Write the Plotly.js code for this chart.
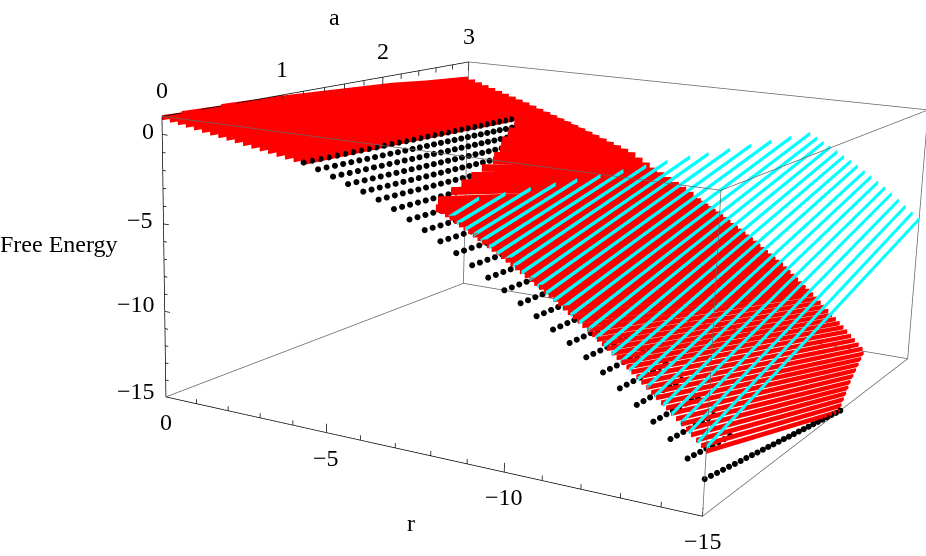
<!DOCTYPE html>
<html lang="en">
<head>
<meta charset="UTF-8">
<script src="https://cdn.plot.ly/plotly-3.0.1.min.js"></script>
<style>
    html, body { margin: 0; padding: 0; width: 926px; height: 556px; overflow: hidden; background: #fff; }
    #plot { position: absolute; left: 0; top: -497px; }
</style>
</head>
<body>
<div id="plot"></div>
<script>
// tick values
const rTicks = [0,-1,-2,-3,-4,-5,-6,-7,-8,-9,-10,-11,-12,-13,-14,-15];
const rLabels = [0,-5,-10,-15];
const aTicks = [0,0.2,0.4,0.6,0.8,1,1.2,1.4,1.6,1.8,2,2.2,2.4,2.6,2.8,3];
const aLabels = [0,1,2,3];
const zTicks = [0,-1,-2,-3,-4,-5,-6,-7,-8,-9,-10,-11,-12,-13,-14,-15];
const zLabels = [0,-5,-10,-15];

// red sheet, small |r|: F at the a values of redTopA
const redTopR = [0,-0.25,-0.5,-0.75,-1,-1.25,-1.5,-1.75,-2,-2.25,-2.5,-2.75,-3,-3.25,-3.5,-3.75,-4,-4.25];
const redTopA = [0,1,2.1,2.5,3];
const redTopF = [
    [1,0.75,0.3,0.02,-0.25],[0.92,0.68,0.24,-0.06,-0.4],[0.84,0.6,0.17,-0.15,-0.55],[0.76,0.53,0.11,-0.24,-0.7],
    [0.67,0.45,0.05,-0.32,-0.85],[0.59,0.37,-0.02,-0.42,-1],[0.51,0.3,-0.08,-0.52,-1.15],[0.43,0.22,-0.14,-0.62,-1.3],
    [0.35,0.15,-0.2,-0.72,-1.45],[0.27,0.07,-0.26,-0.83,-1.6],[0.18,-0.01,-0.33,-0.93,-1.77],[0.1,-0.08,-0.39,-1.04,-1.94],
    [0.02,-0.16,-0.45,-1.15,-2.1],[-0.06,-0.23,-0.52,-1.26,-2.27],[-0.15,-0.31,-0.59,-1.37,-2.44],[-0.23,-0.38,-0.66,-1.48,-2.6],
    [-0.31,-0.46,-0.73,-1.6,-2.78],[-0.4,-0.55,-0.8,-1.72,-2.95]
];

// red sheet past the fold: rows run from redMidA to a=3
const redMidR = [-4.5,-4.75,-5,-5.25,-5.5,-5.75,-6,-6.25,-6.5,-6.75,-7,-7.25,-7.5,-7.75,-8];
const redMidA = [2,1.9,1.75,1.65,1.5,1.4,1.3,1.15,1.05,0.85,0.66,0.48,0.3,0.1,0];
const redMidF = [-0.85,-0.92,-0.97,-1.02,-1.08,-1.15,-1.22,-1.3,-1.37,-1.43,-1.5,-1.55,-1.6,-1.68,-1.85];
const redMidEnd = [-3.12,-3.29,-3.46,-3.63,-3.8,-3.97,-4.15,-4.45,-4.72,-5,-5.25,-5.5,-5.77,-6.03,-6.3];

// red sheet, large |r|: rows from a=0 to redLowA, stopped by the floor of the box
const redLowR = [-8.125,-8.25,-8.375,-8.5,-8.625,-8.75,-8.875,-9,-9.125,-9.25,-9.375,-9.5,-9.625,-9.75,-9.875,-10,
    -10.125,-10.25,-10.375,-10.5,-10.625,-10.75,-10.875,-11,-11.125,-11.25,-11.375,-11.5,-11.625,-11.75,-11.875,-12,
    -12.125,-12.25,-12.375,-12.5,-12.625,-12.75,-12.875,-13,-13.125,-13.25,-13.375,-13.5,-13.625,-13.75,-13.875,-14,
    -14.125,-14.25,-14.375,-14.5,-14.625,-14.75,-14.875,-15];
const redLowF = [-1.98,-2.11,-2.25,-2.38,-2.52,-2.65,-2.79,-2.93,-3.07,-3.22,-3.36,-3.51,-3.65,-3.8,-3.95,-4.1,
    -4.26,-4.41,-4.57,-4.73,-4.89,-5.05,-5.21,-5.37,-5.54,-5.71,-5.89,-6.07,-6.25,-6.42,-6.6,-6.78,
    -6.97,-7.16,-7.34,-7.53,-7.72,-7.9,-8.09,-8.28,-8.48,-8.69,-8.9,-9.11,-9.32,-9.53,-9.74,-9.95,
    -10.17,-10.39,-10.6,-10.82,-11.04,-11.26,-11.48,-11.7];
const redLowEnd = [-6.44,-6.58,-6.72,-6.87,-7.01,-7.16,-7.3,-7.45,-7.61,-7.77,-7.93,-8.08,-8.24,-8.4,-8.56,-8.72,
    -8.9,-9.07,-9.25,-9.42,-9.6,-9.78,-9.95,-10.1,-10.31,-10.52,-10.73,-10.94,-11.15,-11.36,-11.57,-11.78,
    -12.01,-12.24,-12.48,-12.71,-12.94,-13.17,-13.4,-13.63,-13.87,-14.12,-14.36,-14.61,-14.85,-15,-15,-15,
    -15,-15,-15,-15,-15,-15,-15,-15];
const redLowA = [3,3,3,3,3,3,3,3,3,3,3,3,3,3,3,3,
    3,3,3,3,3,3,3,3,3,3,3,3,3,3,3,3,
    3,3,3,3,3,3,3,3,3,3,3,3,3,2.95,2.83,2.71,
    2.59,2.47,2.35,2.24,2.13,2.02,1.91,1.8];

// cyan sheet: rows from a=0 to cyanA
const cyanR = [-15,-14.79,-14.57,-14.36,-14.14,-13.93,-13.71,-13.5,-13.29,-13.07,-12.86,-12.64,-12.43,-12.21,-12,-11.79,-11.57,
    -11.36,-11.14,-10.93,-10.71,-10.5,-10.29,-10.07,-9.86,-9.64,-9.43,-9.21,-9,-8.79,-8.57,-8.36];
const cyanF = [-11.5,-11.33,-10.95,-10.58,-10.2,-9.83,-9.47,-9.12,-8.77,-8.4,-8.06,-7.73,-7.42,-7.1,-6.78,-6.48,-6.17,
    -5.87,-5.57,-5.28,-5,-4.72,-4.45,-4.18,-3.93,-3.67,-3.42,-3.17,-2.93,-2.7,-2.45,-2.2];
const cyanA = [3,3,3,3,3,3,3,3,3,3,3,3,3,3,3,3,3,
    2.8,2.6,2.4,2.2,2,1.85,1.65,1.48,1.3,1.12,0.95,0.8,0.62,0.45,0.27];
const cyanEnd = [-5.9,-5.56,-5.21,-4.87,-4.52,-4.2,-3.9,-3.6,-3.33,-3.03,-2.77,-2.52,-2.27,-2.02,-1.78,-1.55,-1.3,
    -1.32,-1.34,-1.36,-1.38,-1.4,-1.42,-1.45,-1.5,-1.55,-1.6,-1.62,-1.65,-1.67,-1.7,-1.7];

// black sheet: dots at a = blackA[0], blackA[1], ... along each row
const blackA = [0,0.07,0.14,0.21,0.28,0.35,0.42,0.49,0.56,0.63,0.7,0.77,0.84,0.91,0.98,1.05,1.12,1.19,1.26,1.33,1.4,1.47,1.54,1.61,1.68,1.75,1.82,1.89,1.96,2.03];
const blackR = [-4.29,-4.71,-5.14,-5.57,-6,-6.43,-6.86,-7.29,-7.71,-8.14,-8.57,-9,-9.43,-9.86,-10.29,-10.71,-11.14,-11.57,-12,-12.43,-12.86,-13.29,-13.71,-14.14,-14.57,-15];
const blackF = [
    [-0.45,-0.46,-0.47,-0.49,-0.5,-0.51,-0.52,-0.53,-0.55,-0.56,-0.57,-0.58,-0.59,-0.61,-0.62,-0.63,-0.64,-0.65,-0.67,-0.68,-0.69,-0.7,-0.71,-0.73,-0.74,-0.75,-0.76,-0.77,-0.79,-0.8],
    [-0.7,-0.71,-0.73,-0.74,-0.75,-0.76,-0.78,-0.79,-0.8,-0.81,-0.83,-0.84,-0.85,-0.86,-0.88,-0.89,-0.9,-0.91,-0.93,-0.94,-0.95,-0.96,-0.98,-0.99,-1,-1.01,-1.03,-1.04],
    [-0.97,-0.98,-1,-1.01,-1.02,-1.03,-1.05,-1.06,-1.07,-1.08,-1.1,-1.11,-1.12,-1.13,-1.15,-1.16,-1.17,-1.18,-1.2,-1.21,-1.22,-1.23,-1.25,-1.26,-1.27,-1.28],
    [-1.25,-1.26,-1.28,-1.29,-1.3,-1.31,-1.33,-1.34,-1.35,-1.36,-1.38,-1.39,-1.4,-1.41,-1.43,-1.44,-1.45,-1.46,-1.48,-1.49,-1.5,-1.51,-1.53],
    [-1.53,-1.54,-1.55,-1.57,-1.58,-1.59,-1.6,-1.61,-1.63,-1.64,-1.65,-1.66,-1.67,-1.69,-1.7,-1.71,-1.72,-1.73,-1.75],
    [-1.83,-1.84,-1.85,-1.86,-1.87,-1.89,-1.9,-1.91,-1.92,-1.93,-1.94,-1.95,-1.96],
    [-2.2,-2.21,-2.22,-2.23,-2.24,-2.25,-2.26,-2.27,-2.28,-2.29],
    [-2.62,-2.63,-2.64,-2.65,-2.66,-2.67,-2.68],
    [-3.05,-3.06,-3.07,-3.07,-3.08,-3.09,-3.1],
    [-3.5,-3.51,-3.52,-3.52,-3.53,-3.54,-3.55],
    [-3.98,-3.99,-3.99,-4,-4.01,-4.02,-4.02],
    [-4.47,-4.48,-4.48,-4.49,-4.5,-4.5,-4.51,-4.52],
    [-4.97,-4.98,-4.98,-4.99,-5,-5,-5.01,-5.02],
    [-5.48,-5.49,-5.49,-5.5,-5.51,-5.51,-5.52,-5.53],
    [-6,-6.01,-6.01,-6.02,-6.03,-6.03,-6.04,-6.05],
    [-6.52,-6.53,-6.53,-6.54,-6.55,-6.55,-6.56,-6.57],
    [-7.05,-7.06,-7.06,-7.07,-7.08,-7.08,-7.09,-7.1],
    [-7.58,-7.59,-7.6,-7.6,-7.61,-7.62,-7.63,-7.63],
    [-8.15,-8.16,-8.17,-8.17,-8.18,-8.19,-8.2,-8.21],
    [-8.76,-8.77,-8.78,-8.79,-8.8,-8.81,-8.82,-8.83],
    [-9.4,-9.41,-9.42,-9.43,-9.44,-9.45,-9.46,-9.47],
    [-10.07,-10.08,-10.09,-10.1,-10.11,-10.12,-10.14,-10.15],
    [-10.75,-10.77,-10.79,-10.81,-10.83,-10.85,-10.87,-10.89],
    [-11.45,-11.49,-11.52,-11.56,-11.59,-11.63,-11.66,-11.7],
    [-12.25,-12.3,-12.36,-12.41,-12.46,-12.51,-12.57,-12.62],
    [-13.1,-13.17,-13.25,-13.32,-13.39,-13.47,-13.54,-13.61,-13.68,-13.76,-13.83,-13.9,-13.98,-14.05,-14.12,-14.2,-14.27,-14.34,-14.42,-14.49,-14.56,-14.63,-14.71,-14.78,-14.85,-14.93,-15]
];

const rEnd = -15, aEnd = 3, zLow = -15, zTop = 1;

// The plot's r axis runs right-to-left compared to a right handed box, so x = -r.
function emptyLine() { return {x: [], y: [], z: []}; }
function addRow(l, rows) {
    rows.forEach(p => { l.x.push(-p[0]); l.y.push(p[1]); l.z.push(p[2]); });
    l.x.push(null); l.y.push(null); l.z.push(null);
}
// webgl caps line.width here, so a thick row is the same row drawn a few times
function addThick(l, rows, offsets) {
    offsets.forEach(d => addRow(l, rows.map(p => [p[0], p[1], p[2] + d])));
}
const wide = [-0.15, -0.07, 0, 0.07, 0.15];
const medium = [-0.07, 0, 0.07];
const cyanBand = [-0.05, 0.05];

const red = emptyLine();
redTopR.forEach((r, i) => addThick(red, redTopA.map((a, j) => [r, a, redTopF[i][j]]), wide));
redMidR.forEach((r, i) => addThick(red, [[r, redMidA[i], redMidF[i]], [r, aEnd, redMidEnd[i]]], wide));
redLowR.forEach((r, i) => addThick(red, [[r, 0, redLowF[i]], [r, redLowA[i], redLowEnd[i]]], medium));

const cyan = emptyLine();
cyanR.forEach((r, i) => addThick(cyan, [[r, 0, cyanF[i]], [r, cyanA[i], cyanEnd[i]]], cyanBand));

const black = {x: [], y: [], z: []};
blackR.forEach((r, i) => blackF[i].forEach((f, j) => {
    black.x.push(-r); black.y.push(blackA[j]); black.z.push(f);
}));

// box edges
const grey = emptyLine();
addRow(grey, [[0, aEnd, zLow], [rEnd, aEnd, zLow], [rEnd, 0, zLow]]);
addRow(grey, [[0, 0, zLow], [0, aEnd, zLow]]);
addRow(grey, [[0, 0, zTop], [rEnd, 0, zTop], [rEnd, aEnd, zTop], [0, aEnd, zTop]]);
addRow(grey, [[rEnd, 0, zLow], [rEnd, 0, zTop]]);
addRow(grey, [[rEnd, aEnd, zLow], [rEnd, aEnd, zTop]]);
addRow(grey, [[0, aEnd, zLow], [0, aEnd, zTop]]);

// the three labelled axes with their ticks
const axes = emptyLine();
addRow(axes, [[0, 0, zLow], [rEnd, 0, zLow]]);
addRow(axes, [[0, 0, zLow], [0, 0, zTop]]);
addRow(axes, [[0, 0, zTop], [0, aEnd, zTop]]);
rTicks.forEach(r => addRow(axes, [[r, 0, zLow], [r, 0, zLow + (rLabels.includes(r) ? 0.5 : 0.27)]]));
aTicks.forEach(a => addRow(axes, [[0, a, zTop], [0, a, zTop - (aLabels.includes(a) ? 0.6 : 0.33)]]));
zTicks.forEach(z => addRow(axes, [[0, 0, z], [zLabels.includes(z) ? -0.17 : -0.1, 0, z]]));

const labelFont = {family: '"Liberation Serif", serif', size: 24, color: '#000'};
function note(r, a, z, text, dx, dy) {
    return {x: -r, y: a, z: z, text: text, showarrow: false, xshift: dx, yshift: dy, font: labelFont};
}
function minus(v) { return v < 0 ? '\u2212' + Math.abs(v) : String(v); }
const zShiftX = [-14, -23, -29, -30];
const zShiftY = [3, 4, 7, 6];
const annotations = [
    ...rLabels.map(r => note(r, 0, zLow, minus(r), 0, -25)),
    ...aLabels.map(a => note(0, a, zTop, String(a), 0, 26)),
    ...zLabels.map((z, i) => note(0, 0, z, minus(z), zShiftX[i], zShiftY[i])),
    note(-7.5, 0, zLow, 'r', -2, -71),
    note(0, 1.5, zTop, 'a', 0, 69),
    note(0, 0, -7, 'Free Energy', -105, 15)
];

const traces = [
    {type: 'scatter3d', mode: 'lines', x: grey.x, y: grey.y, z: grey.z, line: {color: '#666', width: 1.5}, hoverinfo: 'skip'},
    {type: 'scatter3d', mode: 'lines', x: axes.x, y: axes.y, z: axes.z, line: {color: '#000', width: 1.5}, hoverinfo: 'skip'},
    {type: 'scatter3d', mode: 'markers', x: black.x, y: black.y, z: black.z, marker: {color: '#000', size: 3.5, line: {width: 0}}, hoverinfo: 'skip'},
    {type: 'scatter3d', mode: 'lines', x: red.x, y: red.y, z: red.z, line: {color: '#ff0000', width: 4.5}, hoverinfo: 'skip'},
    {type: 'scatter3d', mode: 'lines', x: cyan.x, y: cyan.y, z: cyan.z, line: {color: '#00ffff', width: 4}, hoverinfo: 'skip'}
];

const hiddenAxis = {visible: false, showspikes: false};
const pad = 1.004;
const layout = {
    width: 1128.2,
    height: 1487.5,
    margin: {l: 0, r: 0, t: 0, b: 0},
    showlegend: false,
    paper_bgcolor: '#fff',
    scene: {
        domain: {x: [0, 1], y: [0, 1]},
        aspectmode: 'manual',
        aspectratio: {x: 1.0209 * pad, y: pad, z: 0.494 * pad},
        camera: {
            eye: {x: 1.4807, y: -2.8317, z: 0.7317},
            center: {x: 0, y: 0, z: 0},
            up: {x: -0.4983, y: 0.8822, z: 0.6765},
            projection: {type: 'perspective'}
        },
        xaxis: {...hiddenAxis, range: [-0.03, 15.03]},
        yaxis: {...hiddenAxis, range: [-0.006, 3.006]},
        zaxis: {...hiddenAxis, range: [-15.032, 1.032]},
        annotations: annotations
    }
};

Plotly.newPlot('plot', traces, layout, {displayModeBar: false});
</script>
</body>
</html>
